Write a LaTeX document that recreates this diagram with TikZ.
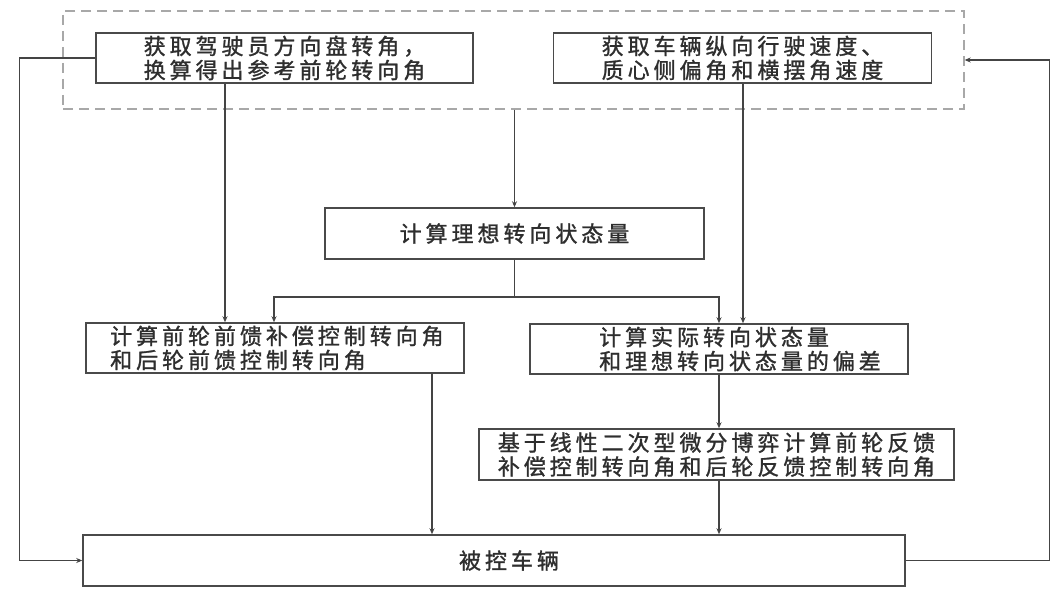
\documentclass[tikz,border=0pt]{standalone}
\usepackage{fontspec}
\newfontfamily\cjk[LetterSpace=18,FakeBold=1.2]{Noto Sans CJK SC}
\usetikzlibrary{arrows.meta}
\definecolor{boxgray}{HTML}{4A4A4A}
\definecolor{linegray}{HTML}{444444}
\definecolor{dashgray}{HTML}{A8A8A8}
\definecolor{txt}{HTML}{2E2E2E}
\begin{document}
\begin{tikzpicture}[x=1pt,y=-1pt,
  box/.style={draw=boxgray, line width=1.5pt, inner sep=0pt, minimum height=50pt,
    align=center, text=txt, font=\cjk\fontsize{22}{24}\selectfont},
  lbl/.style={inner sep=0pt, align=left, text=txt, font=\cjk\fontsize{22}{24}\selectfont},
  grpbox/.style={draw=dashgray, line width=1.3pt, dash pattern=on 10pt off 6pt, inner sep=0pt},
  conn/.style={draw=linegray, line width=1.2pt},
  arr/.style={conn, -{Stealth[length=6pt,width=5pt]}}]
\useasboundingbox[fill=white] (0,0) rectangle (1064,599);

\node[grpbox, minimum width=901pt, minimum height=98pt] (grp) at (513.5,60) {};
\node[box, minimum width=377pt] (b1) at (284.5,58) {获取驾驶员方向盘转角，\\换算得出参考前轮转向角};
\node[box, minimum width=378pt] (b2) at (742.5,58) {获取车辆纵向行驶速度、\\质心侧偏角和横摆角速度};
\node[box, minimum width=379pt, minimum height=51pt] (ideal) at (514.5,233.5) {计算理想转向状态量};
\node[box, minimum width=378pt] (ff) at (275,348) {};
\node[lbl, anchor=west] (fftext) at (110,348) {计算前轮前馈补偿控制转向角\\和后轮前馈控制转向角};
\node[box, minimum width=378pt] (dev) at (719,349) {};
\node[lbl, anchor=west] (devtext) at (599,349) {计算实际转向状态量\\和理想转向状态量的偏差};
\node[box, minimum width=475pt, minimum height=51pt] (fb) at (716.5,454.5) {基于线性二次型微分博弈计算前轮反馈\\补偿控制转向角和后轮反馈控制转向角};
\node[box, minimum width=822pt, minimum height=51pt] (veh) at (494,560.5) {};
\node[lbl] (vehtext) at (509,560.5) {被控车辆};

\coordinate (xL) at (225,0);
\coordinate (xR) at (743,0);
\coordinate (xFF) at (432,0);
\coordinate (xBL) at (274,0);
\coordinate (br) at (514.5,297);

\draw[arr] (b1.west) -- ++(-76,0) |- (veh.west);
\draw[arr] (veh.east) -- ++(144,0) |- (grp.east);
\draw[arr] (xL |- b1.south) -- (xL |- ff.north);
\draw[arr] (xR |- b2.south) -- (xR |- dev.north);
\draw[arr] (grp.south -| ideal.north) -- (ideal.north);
\draw[conn] (ideal.south) -- (br);
\draw[arr] (br) -| (xBL |- ff.north);
\draw[arr] (br) -| (dev.north);
\draw[arr] (dev.south) -- (dev.south |- fb.north);
\draw[arr] (dev.south |- fb.south) -- (dev.south |- veh.north);
\draw[arr] (xFF |- ff.south) -- (xFF |- veh.north);
\end{tikzpicture}
\end{document}
